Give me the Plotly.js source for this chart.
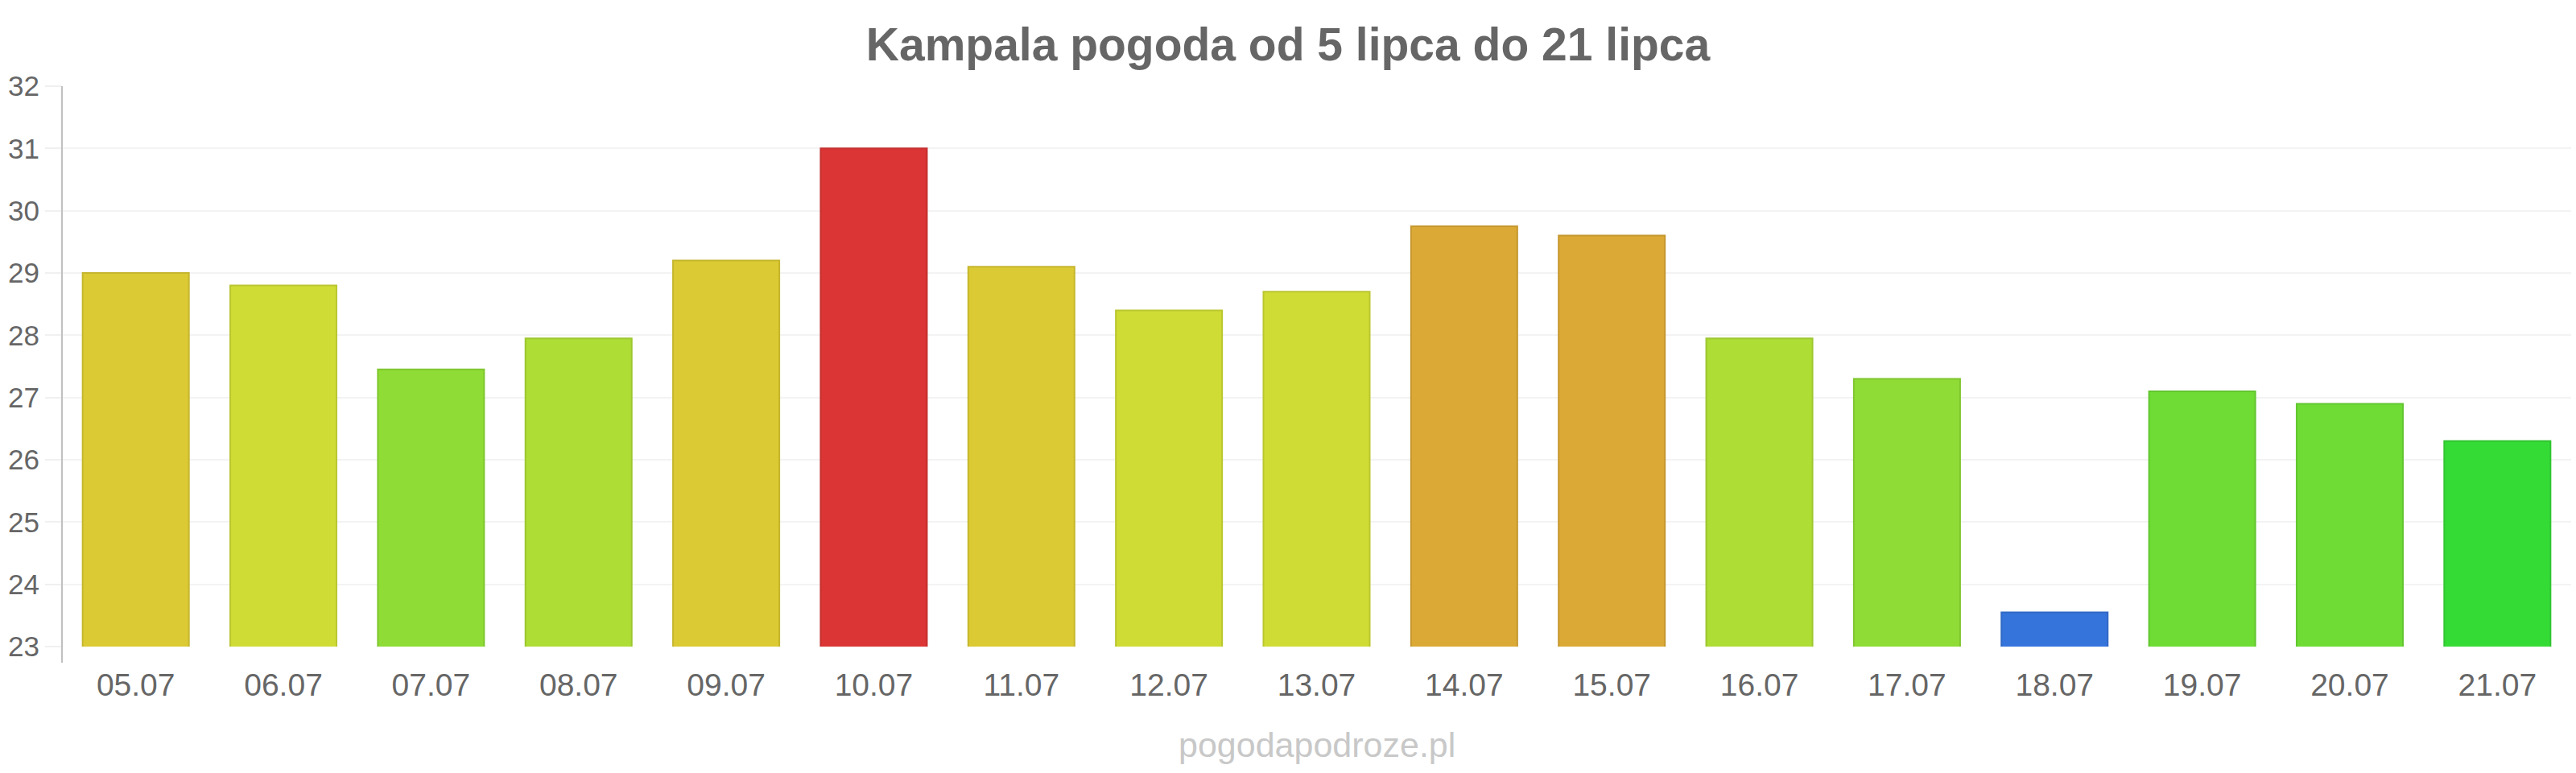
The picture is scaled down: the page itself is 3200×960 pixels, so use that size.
<!DOCTYPE html>
<html>
<head>
<meta charset="utf-8">
<script src="https://cdn.plot.ly/plotly-3.0.1.min.js"></script>
<style>
  html, body { margin: 0; padding: 0; background: #ffffff; }
  #chart { width: 3200px; height: 960px; }
</style>
</head>
<body>
<div id="chart"></div>
<script>
// Daily maximum temperatures in Kampala, 5–21 July
const days = ['05.07', '06.07', '07.07', '08.07', '09.07', '10.07', '11.07', '12.07', '13.07',
              '14.07', '15.07', '16.07', '17.07', '18.07', '19.07', '20.07', '21.07'];
const temps = [29.0, 28.8, 27.45, 27.95, 29.2, 31.0, 29.1, 28.4, 28.7,
               29.75, 29.6, 27.95, 27.3, 23.55, 27.1, 26.9, 26.3];
const barColors = ['#dbca33', '#cfdc35', '#8edc35', '#aedd35', '#dbca33', '#db3535', '#dbca33', '#cfdc35', '#cfdc35',
                   '#dba935', '#dba935', '#aedd35', '#8edc35', '#3574db', '#6edc35', '#6edc35', '#35db35'];

const chartTitle = 'Kampala pogoda od 5 lipca do 21 lipca';
const siteName = 'pogodapodroze.pl';

// slightly darker outline for each bar
function darken(hex, f) {
  const n = parseInt(hex.slice(1), 16);
  const r = Math.round(((n >> 16) & 255) * f);
  const g = Math.round(((n >> 8) & 255) * f);
  const b = Math.round((n & 255) * f);
  return 'rgb(' + r + ',' + g + ',' + b + ')';
}

const font = 'Liberation Sans, Arial, sans-serif';

const trace = {
  type: 'bar',
  x: days,
  y: temps,
  marker: {
    color: barColors,
    line: { color: barColors.map(c => darken(c, 0.9)), width: 2 }
  },
  hoverinfo: 'skip'
};

const layout = {
  width: 3200,
  height: 960,
  paper_bgcolor: '#ffffff',
  plot_bgcolor: '#ffffff',
  margin: { l: 77, r: 6, t: 107, b: 157, pad: 0 },
  bargap: 0.28,
  showlegend: false,
  title: {
    text: '<b>' + chartTitle + '</b>',
    font: { family: font, size: 57, color: '#666666' },
    xref: 'container', x: 0.5, xanchor: 'center',
    yref: 'container', y: 1 - 55 / 960, yanchor: 'middle'
  },
  xaxis: {
    type: 'category',
    showgrid: false,
    zeroline: false,
    showline: false,
    ticks: '',
    ticklabelstandoff: 21,
    tickfont: { family: font, size: 39, color: '#666666' }
  },
  yaxis: {
    range: [23, 32],
    dtick: 1,
    tick0: 23,
    showgrid: true,
    gridcolor: '#f3f3f3',
    gridwidth: 2,
    zeroline: false,
    showline: false,
    ticks: 'outside',
    ticklen: 20,
    tickwidth: 2,
    tickcolor: '#f0f0f0',
    tickfont: { family: font, size: 35, color: '#666666' }
  },
  shapes: [{
    type: 'line', layer: 'above',
    xref: 'paper', yref: 'paper',
    x0: 0, x1: 0, y0: -0.0287, y1: 1,
    line: { color: '#c0c0c0', width: 2 }
  }],
  annotations: [{
    text: siteName,
    xref: 'paper', yref: 'paper',
    x: 0.5, y: -0.176, xanchor: 'center', yanchor: 'middle',
    showarrow: false,
    font: { family: font, size: 43, color: '#c8c8c8' }
  }]
};

Plotly.newPlot('chart', [trace], layout, { displayModeBar: false, staticPlot: true });
</script>
</body>
</html>
